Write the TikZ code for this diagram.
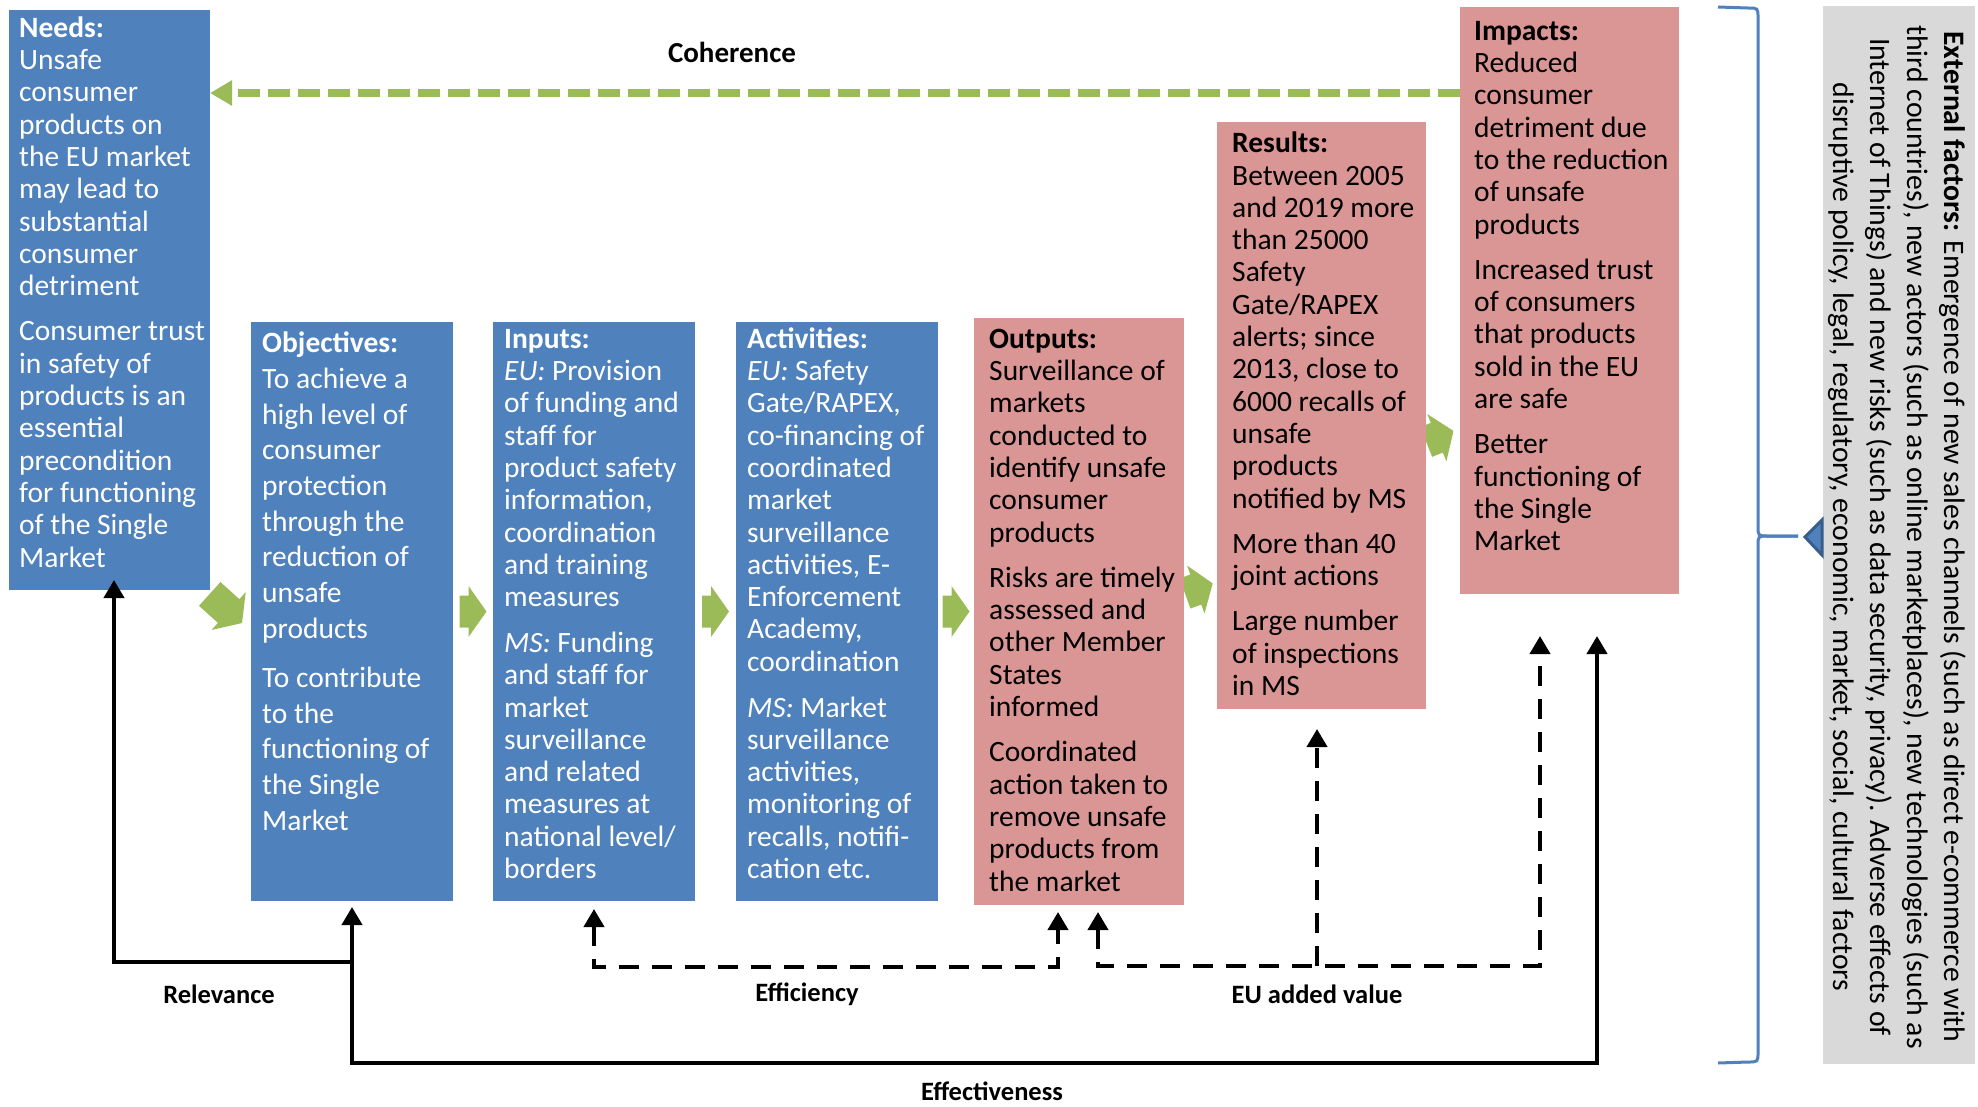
\documentclass[tikz,border=0pt]{standalone}
\usepackage{fontspec}
\setmainfont{Carlito}
\usetikzlibrary{arrows.meta,calc}
\definecolor{boxblue}{RGB}{79,129,189}
\definecolor{boxpink}{RGB}{217,150,148}
\definecolor{agreen}{RGB}{155,187,89}
\definecolor{extgray}{RGB}{217,217,217}
\definecolor{darkblue}{RGB}{56,93,138}
% block arrow: #1 centre, #2 angle, #3 back end of shaft
\newcommand\garrow[3]{\fill[agreen, shift={#1}, rotate=#2] (#3,-16) -- (-4.5,-16) -- (-4.5,-25.5) -- (13.5,0) -- (-4.5,25.5) -- (-4.5,16) -- (#3,16) -- cycle;}
\begin{document}
\begin{tikzpicture}[x=1pt,y=-1pt,
  boxshape/.style={anchor=north west, inner sep=0pt, outer sep=0pt, draw=none},
  bluebox/.style={boxshape, fill=boxblue},
  pinkbox/.style={boxshape, fill=boxpink},
  btext/.style={anchor=north west, inner sep=0pt, align=left, font=\fontsize{29.5}{32.3}\selectfont},
  wtext/.style={btext, text=white},
  ktext/.style={btext, text=black},
  conn/.style={line width=4pt, black},
  dconn/.style={conn, dash pattern=on 20pt off 13pt},
  blacktip/.style={-{Triangle[length=18pt,width=20pt]}},
  bothtips/.style={{Triangle[length=18pt,width=20pt]}-{Triangle[length=18pt,width=20pt]}},
  evl/.style={inner sep=0pt, font=\fontsize{26.5}{30}\selectfont\bfseries},
  coh/.style={agreen, line width=8pt, dash pattern=on 22pt off 8pt, -{Triangle[length=22pt,width=24pt]}},
  bracepath/.style={draw=boxblue, line width=3pt}
]
\useasboundingbox (0,0) rectangle (1978,1106);

% diagonal green arrows (beneath the boxes)
\garrow{(232,614)}{-42}{-30}
\garrow{(1200,588)}{20}{-16}
\begin{scope}
  \clip (1420,380) rectangle (1453,480);
  \garrow{(1441,436)}{22}{-16}
\end{scope}

% boxes
\node[bluebox, minimum width=201pt, minimum height=580pt] (needs) at (9,10) {};
\node[bluebox, minimum width=202pt, minimum height=579pt] (obj) at (251,322) {};
\node[bluebox, minimum width=202pt, minimum height=579pt] (inp) at (493,322) {};
\node[bluebox, minimum width=202pt, minimum height=579pt] (act) at (736,322) {};
\node[pinkbox, minimum width=210pt, minimum height=587pt] (out) at (974,318) {};
\node[pinkbox, minimum width=209pt, minimum height=587pt] (res) at (1217,122) {};
\node[pinkbox, minimum width=219pt, minimum height=587pt] (imp) at (1460,7) {};

% box texts
\node[wtext] (needstext) at (19,15) {\rule{0pt}{22pt}\textbf{Needs:}\\Unsafe\\consumer\\products on\\the EU market\\may lead to\\substantial\\consumer\\detriment\\[13pt]Consumer trust\\in safety of\\products is an\\essential\\precondition\\for functioning\\of the Single\\Market};
\node[wtext, font=\fontsize{29.5}{35.7}\selectfont] (objtext) at (262,330.5) {\rule{0pt}{22pt}\textbf{Objectives:}\\To achieve a\\high level of\\consumer\\protection\\through the\\reduction of\\unsafe\\products\\[13.5pt]To contribute\\to the\\functioning of\\the Single\\Market};
\node[wtext] (inptext) at (504,326) {\rule{0pt}{22pt}\textbf{Inputs:}\\\textit{EU:} Provision\\of funding and\\staff for\\product safety\\information,\\coordination\\and training\\measures\\[13.5pt]\textit{MS:} Funding\\and staff for\\market\\surveillance\\and related\\measures at\\national level/\\borders};
\node[wtext] (acttext) at (747,326) {\rule{0pt}{22pt}\textbf{Activities:}\\\textit{EU:} Safety\\Gate/RAPEX,\\co-financing of\\coordinated\\market\\surveillance\\activities, E-\\Enforcement\\Academy,\\coordination\\[13.5pt]\textit{MS:} Market\\surveillance\\activities,\\monitoring of\\recalls, notifi-\\cation etc.};
\node[ktext] (outtext) at (989,326) {\rule{0pt}{22pt}\textbf{Outputs:}\\Surveillance of\\markets\\conducted to\\identify unsafe\\consumer\\products\\[13pt]Risks are timely\\assessed and\\other Member\\States\\informed\\[13pt]Coordinated\\action taken to\\remove unsafe\\products from\\the market};
\node[ktext] (restext) at (1232,130.5) {\rule{0pt}{22pt}\textbf{Results:}\\Between 2005\\and 2019 more\\than 25000\\Safety\\Gate/RAPEX\\alerts; since\\2013, close to\\6000 recalls of\\unsafe\\products\\notified by MS\\[13pt]More than 40\\joint actions\\[13pt]Large number\\of inspections\\in MS};
\node[ktext] (imptext) at (1474,18) {\rule{0pt}{22pt}\textbf{Impacts:}\\Reduced\\consumer\\detriment due\\to the reduction\\of unsafe\\products\\[13pt]Increased trust\\of consumers\\that products\\sold in the EU\\are safe\\[13pt]Better\\functioning of\\the Single\\Market};

% horizontal green arrows
\garrow{($(obj.east)!0.5!(inp.west)$)}{0}{-13.5}
\garrow{($(inp.east)!0.5!(act.west)$)}{0}{-13.5}
\garrow{($(act.east)!0.5!(out.west)$)}{0}{-13.5}

% coherence
\coordinate (cohy) at (0,93);
\draw[coh] (imp.west |- cohy) -- (needs.east |- cohy);
\node[evl, font=\fontsize{29}{32}\selectfont\bfseries] (coherence) at (732,52) {Coherence};

% evaluation connectors
\coordinate (objB) at ([yshift=-6pt]obj.south);
\coordinate (needsB) at ([xshift=4.5pt,yshift=10pt]needs.south);
\coordinate (inpB) at ([yshift=-8pt]inp.south);
\coordinate (outL) at ([xshift=-21pt,yshift=-7pt]out.south);
\coordinate (outR) at ([xshift=19pt,yshift=-7pt]out.south);
\coordinate (resB) at ([xshift=-4.5pt,yshift=-20pt]res.south);
\coordinate (impD) at ([xshift=-29.5pt,yshift=-42pt]imp.south);
\coordinate (impS) at ([xshift=27.5pt,yshift=-42pt]imp.south);
\coordinate (effy) at (0,1063);
\coordinate (rely) at (0,962);
\coordinate (effiy) at (0,967);
\coordinate (euy) at (0,966);

\draw[conn, bothtips] (objB) -- (objB |- effy) -- (impS |- effy) -- (impS);
\draw[conn, blacktip] (objB |- rely) -| (needsB);
\draw[dconn, bothtips] (inpB) -- (inpB |- effiy) -- (outL |- effiy) -- (outL);
\draw[dconn, bothtips] (outR) -- (outR |- euy) -- (impD |- euy) -- (impD);
\draw[dconn, blacktip] (resB |- euy) -- (resB);

\node[evl] (relevance) at (219,994) {Relevance};
\node[evl] (efficiency) at (807,994) {Efficiency};
\node[evl] (euvalue) at (1317,994) {EU added value};
\node[evl] (effectiveness) at (992,1091) {Effectiveness};

% external factors
\draw[bracepath] (1718,7) -- (1748,8) .. controls (1758,8) .. (1758,18) -- (1758,526) .. controls (1758,536) .. (1768,536) -- (1798,536);
\draw[bracepath] (1798,536) -- (1768,536) .. controls (1758,536) .. (1758,546) -- (1758,1052) .. controls (1758,1062) .. (1748,1062) -- (1718,1063);
\node[boxshape, fill=extgray, minimum width=152pt, minimum height=1058pt] (ext) at (1823,6) {};
\draw[fill=boxblue, draw=darkblue, line width=3pt, line join=miter] (1805,537) -- (1822,520) -- (1822,555) -- cycle;
\node[rotate=-90, align=center, inner sep=0pt, font=\fontsize{29.7}{37}\selectfont] (exttext) at (1897.5,537) {\textbf{External factors:} Emergence of new sales channels (such as direct e-commerce with\\third countries), new actors (such as online marketplaces), new technologies (such as\\Internet of Things) and new risks (such as data security, privacy). Adverse effects of\\disruptive policy, legal, regulatory, economic, market, social, cultural factors};
\end{tikzpicture}
\end{document}
